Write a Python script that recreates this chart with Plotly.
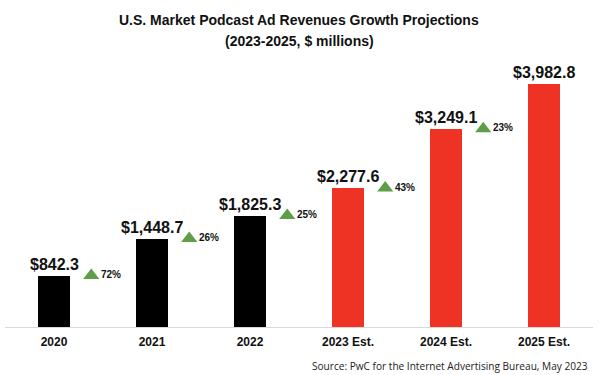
import plotly.graph_objects as go

categories = ["2020", "2021", "2022", "2023 Est.", "2024 Est.", "2025 Est."]
revenues = [842.3, 1448.7, 1825.3, 2277.6, 3249.1, 3982.8]
value_labels = ["$842.3", "$1,448.7", "$1,825.3", "$2,277.6", "$3,249.1", "$3,982.8"]
growth_labels = ["72%", "26%", "25%", "43%", "23%"]
is_estimate = [False, False, False, True, True, True]

W, H = 600, 375
ML, MR, MT, MB = 5, 7, 64, 48
PLOT_H = H - MT - MB
PLOT_W = W - ML - MR

def py(pix):
    return (H - MB - pix) / PLOT_H

def px(pix):
    return (pix - ML) / PLOT_W

FONT = "Liberation Sans, Arial, sans-serif"
xs = list(range(len(categories)))
colors = ["#EE3224" if e else "#000000" for e in is_estimate]

fig = go.Figure()
fig.add_trace(go.Bar(
    x=xs, y=revenues, width=0.32, marker=dict(color=colors, line=dict(width=0)),
    hoverinfo="skip", showlegend=False,
))

tri_offset = 0.38
fig.add_trace(go.Scatter(
    x=[i + tri_offset for i in range(len(growth_labels))],
    y=revenues[:len(growth_labels)],
    mode="markers+text",
    marker=dict(symbol="triangle-up", size=14, color="#5E9E48"),
    text=growth_labels, textposition="middle right",
    textfont=dict(family=FONT, size=10, color="#111111", weight="bold"),
    hoverinfo="skip", showlegend=False, cliponaxis=False,
))

for i, lab in enumerate(value_labels):
    fig.add_annotation(
        x=xs[i], y=revenues[i], xref="x", yref="y", text=f"<b>{lab}</b>",
        showarrow=False, yanchor="bottom", xanchor="center", yshift=1,
        font=dict(family=FONT, size=16, color="#111111"),
    )

fig.add_annotation(
    x=0.5, xref="paper", y=py(19.5), yref="paper", yanchor="middle",
    text="<b>U.S. Market Podcast Ad Revenues Growth Projections</b>",
    showarrow=False, font=dict(family=FONT, size=14, color="#111111"),
)
fig.add_annotation(
    x=0.5, xref="paper", y=py(41), yref="paper", yanchor="middle",
    text="<b>(2023-2025, $ millions)</b>",
    showarrow=False, font=dict(family=FONT, size=14, color="#111111"),
)
fig.add_annotation(
    x=px(590), xref="paper", xanchor="right", y=py(365.5), yref="paper", yanchor="middle",
    text="Source: PwC for the Internet Advertising Bureau, May 2023",
    showarrow=False, font=dict(family="Open Sans, sans-serif", size=10.1, color="#222222"),
)

fig.update_layout(
    width=W, height=H, margin=dict(l=ML, r=MR, t=MT, b=MB),
    paper_bgcolor="white", plot_bgcolor="white",
    bargap=0,
    xaxis=dict(
        range=[-0.5, 5.5], tickmode="array", tickvals=xs,
        ticktext=[f"<b>{c}</b>" for c in categories],
        showline=True, linecolor="#D9D9D9", linewidth=1, showgrid=False,
        zeroline=False, ticks="", ticklabelstandoff=4,
        tickfont=dict(family=FONT, size=12, color="#111111"),
    ),
    yaxis=dict(range=[0, 4310], visible=False, showgrid=False, zeroline=False),
)

fig.write_html(
    "out.html",
    config={"displayModeBar": False, "staticPlot": True},
    post_script="document.body.style.margin='0';document.body.style.overflow='hidden';",
)
